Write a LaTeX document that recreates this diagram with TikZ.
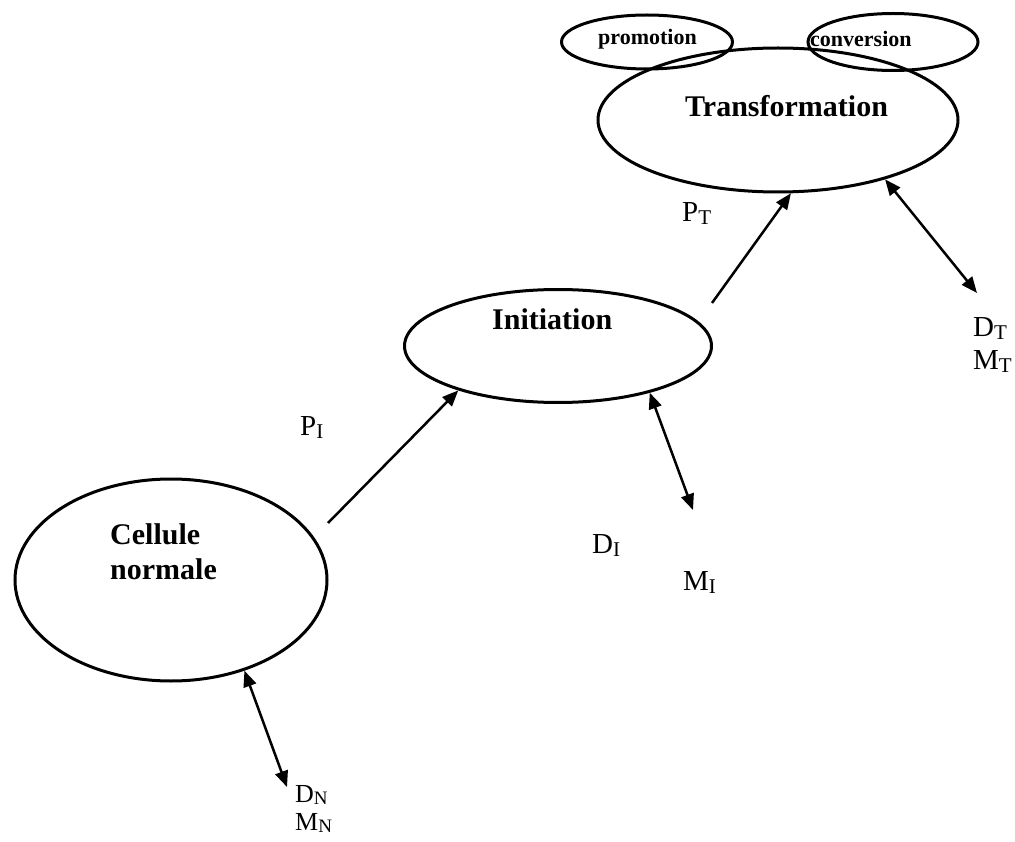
\documentclass[tikz,border=0pt]{standalone}
\usepackage{fontspec}
\setmainfont{Liberation Serif}
\usetikzlibrary{shapes.geometric,arrows.meta}
\begin{document}
\begin{tikzpicture}[x=1pt,y=-1pt,
  ell/.style={ellipse,draw,line width=3pt,inner sep=0pt},
  bigtxt/.style={anchor=base west,inner sep=0pt,font=\fontsize{30}{35}\selectfont\bfseries},
  smalltxt/.style={anchor=base west,inner sep=0pt,font=\fontsize{22}{24}\selectfont\bfseries},
  lab/.style={anchor=base west,inner sep=0pt,font=\fontsize{29}{30}\selectfont},
  slab/.style={anchor=base west,inner sep=0pt,font=\fontsize{26}{27}\selectfont},
  arr/.style={line width=2.5pt,-{Triangle[length=16pt,width=13pt]}},
  darr/.style={line width=2.5pt,{Triangle[length=16pt,width=13pt]}-{Triangle[length=16pt,width=13pt]}}
]
\newcommand{\sbs}[1]{\raisebox{-3pt}{\fontsize{21}{21}\selectfont #1}}
\newcommand{\ssbs}[1]{\raisebox{-2pt}{\fontsize{19}{19}\selectfont #1}}
\useasboundingbox (0,0) rectangle (1015,842);
% ellipses
\node[ell,minimum width=312pt,minimum height=202pt] (cell) at (171,580) {};
\node[ell,minimum width=307pt,minimum height=113pt] (init) at (558,346) {};
\node[ell,minimum width=360pt,minimum height=144pt] (trans) at (778,120) {};
\node[ell,minimum width=171pt,minimum height=54pt] (prom) at (647,42) {};
\node[ell,minimum width=170pt,minimum height=57pt] (conv) at (893,42) {};
% texts
\node[bigtxt] (celltxt1) at (110,544) {Cellule};
\node[bigtxt] (celltxt2) at (110,579) {normale};
\node[bigtxt] (inittxt) at (492,330) {Initiation};
\node[bigtxt] (transtxt) at (685,117) {Transformation};
\node[smalltxt] (promtxt) at (598,45) {promotion};
\node[smalltxt] (convtxt) at (810,47) {conversion};
% labels
\node[lab] (PI) at (300,435) {P\sbs{I}};
\node[lab] (PT) at (682,222) {P\sbs{T}};
\node[slab] (DN) at (295,802) {D\ssbs{N}};
\node[slab] (MN) at (295,830) {M\ssbs{N}};
\node[lab] (DI) at (592,553) {D\sbs{I}};
\node[lab] (MI) at (683,590) {M\sbs{I}};
\node[lab] (DT) at (973,337) {D\sbs{T}};
\node[lab] (MT) at (973,370) {M\sbs{T}};
% free ends
\coordinate (piTail) at (328,523);
\coordinate (ptTail) at (712,303);
\coordinate (dnEnd) at (287,787);
\coordinate (diEnd) at (693,510);
\coordinate (dtEnd) at (977,293);
% connectors
\draw[arr] (piTail) -- (init.204);
\draw[arr] (ptTail) -- (trans.-80);
\draw[darr] (cell.-51.5) -- (dnEnd);
\draw[darr] (init.-27.5) -- (diEnd);
\draw[darr] (trans.-29) -- (dtEnd);
\end{tikzpicture}
\end{document}
